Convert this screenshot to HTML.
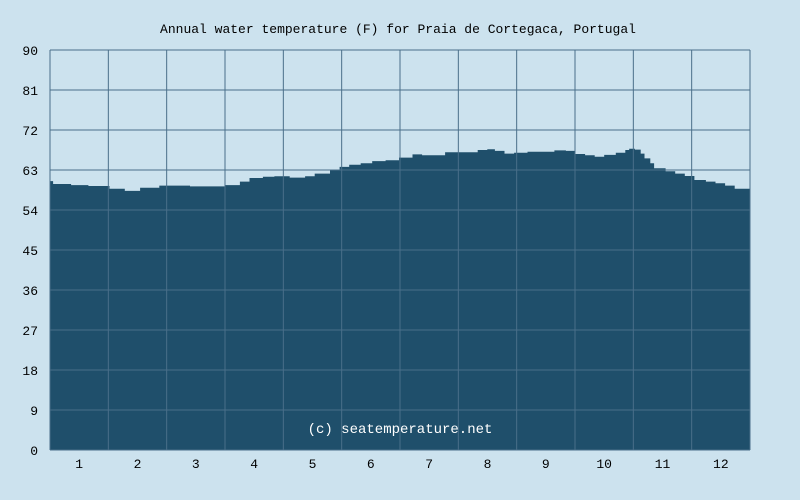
<!DOCTYPE html>
<html><head><meta charset="utf-8"><style>
body{margin:0;background:#cce2ee;}
svg{display:block;font-family:"Liberation Mono",monospace;}
</style></head><body>
<svg width="800" height="500" id="chart">
<rect x="0" y="0" width="800" height="500" fill="#cce2ee"/>
<text x="398" y="33" text-anchor="middle" font-size="13" fill="#000">Annual water temperature (F) for Praia de Cortegaca, Portugal</text>
<g id="area"></g>
<g id="grid"></g>
<g id="labels"></g>
<text x="400" y="433" text-anchor="middle" font-size="14" fill="#fff">(c) seatemperature.net</text>
</svg>
<script>
const days=[0,1.6,11,20,31,39,47,57,73,91,99,104,111,117,125,133,138,146,151,156,162,168,175,182,189,194,206,216,223,228,232,237,242,249,263,269,274,279,284,289,295,300,302,305,308,310,313,315,321,326,331,336,342,347,352,357,365];
const temps=[60.5,59.85,59.6,59.4,58.8,58.3,59,59.5,59.3,59.6,60.4,61.2,61.5,61.6,61.3,61.6,62.2,63,63.7,64.2,64.5,65,65.2,65.8,66.5,66.3,67,67,67.5,67.65,67.3,66.7,66.9,67.1,67.4,67.3,66.6,66.3,66,66.4,66.9,67.5,67.8,67.6,66.7,65.6,64.5,63.4,62.7,62.2,61.65,60.75,60.4,60,59.5,58.8,58.9];
const yTicks=[0,9,18,27,36,45,54,63,72,81,90];
const months=["1","2","3","4","5","6","7","8","9","10","11","12"];
const X0=50,X1=750,Y0=450,Y1=50;
const xs=d=>X0+d/365*(X1-X0);
const ys=t=>Y0-t/90*(Y0-Y1);
const NS="http://www.w3.org/2000/svg";
let d=`M${X0},${Y0}`;
for(let i=0;i<days.length;i++){
  const x=xs(days[i]),y=ys(temps[i]);
  d+=` L${x.toFixed(1)},${i?ys(temps[i-1]).toFixed(1):y.toFixed(1)} L${x.toFixed(1)},${y.toFixed(1)}`;
}
d+=` L${X1},${ys(temps[temps.length-1]).toFixed(1)} L${X1},${Y0} Z`;
const p=document.createElementNS(NS,"path");


p.setAttribute("d",d);p.setAttribute("fill","#1f4f6b");
document.getElementById("area").appendChild(p);
const g=document.getElementById("grid"),L=document.getElementById("labels");
yTicks.forEach(t=>{
  const y=ys(t);
  const l=document.createElementNS(NS,"line");
  
  
  l.setAttribute("x1",X0);l.setAttribute("x2",X1);l.setAttribute("y1",y);l.setAttribute("y2",y);
  l.setAttribute("stroke","#4a6f8a");l.setAttribute("stroke-width","1");
  g.appendChild(l);
  const tx=document.createElementNS(NS,"text");
  
  
  tx.setAttribute("x",38);tx.setAttribute("y",y+5);tx.setAttribute("text-anchor","end");tx.setAttribute("font-size","13");
  tx.textContent=t;L.appendChild(tx);
});
for(let i=0;i<=12;i++){
  const x=X0+i*(X1-X0)/12;
  const l=document.createElementNS(NS,"line");
  
  
  l.setAttribute("x1",x);l.setAttribute("x2",x);l.setAttribute("y1",Y1);l.setAttribute("y2",Y0);
  l.setAttribute("stroke","#4a6f8a");l.setAttribute("stroke-width","1");
  g.appendChild(l);
}
months.forEach((m,i)=>{
  const x=X0+(i+0.5)*(X1-X0)/12;
  const tx=document.createElementNS(NS,"text");
  
  
  tx.setAttribute("x",x);tx.setAttribute("y",468);tx.setAttribute("text-anchor","middle");tx.setAttribute("font-size","13");
  tx.textContent=m;L.appendChild(tx);
});
</script>
</body></html>
